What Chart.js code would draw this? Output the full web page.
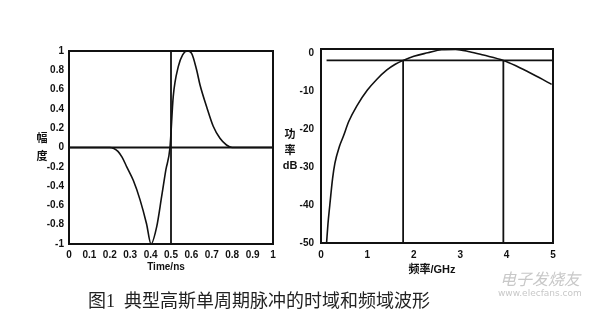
<!DOCTYPE html>
<html>
<head>
<meta charset="utf-8">
<script src="https://cdn.jsdelivr.net/npm/chart.js@4"></script>
<style>
  body { margin: 0; background: #fff; }
  #wrap { position: relative; width: 600px; height: 309px; overflow: hidden; background: #fff; }
  canvas { position: absolute; }
  .lbl { position: absolute; font: bold 11px "Liberation Sans", "Noto Sans CJK SC", sans-serif; color: #111; transform: translate(-50%, -50%); white-space: nowrap; }
  #caption { position: absolute; left: 88px; top: 286px; font: 18px "Liberation Serif", "Noto Sans CJK SC", serif; color: #222; white-space: pre; }
  .wm { position: absolute; color: #c8c8c8; white-space: nowrap; }
</style>
</head>
<body>
<div id="wrap">
  <canvas id="timeChart" style="left:0;top:0" width="290" height="275"></canvas>
  <canvas id="freqChart" style="left:280px;top:0" width="300" height="275"></canvas>
  <div class="lbl" style="left:42px;top:137px">幅</div>
  <div class="lbl" style="left:42px;top:155px">度</div>
  <div class="lbl" style="left:166px;top:266px;font-size:10px">Time/ns</div>
  <div class="lbl" style="left:290px;top:133px">功</div>
  <div class="lbl" style="left:290px;top:149px">率</div>
  <div class="lbl" style="left:290px;top:165px">dB</div>
  <div class="lbl" style="left:432px;top:268px">频率/GHz</div>
  <div id="caption">图1  典型高斯单周期脉冲的时域和频域波形</div>
  <div class="wm" style="left:500px;top:266px;font:italic 16px 'Noto Sans CJK SC',sans-serif">电子发烧友</div>
  <div class="wm" style="left:498px;top:288px;font:9px 'DejaVu Sans',sans-serif">www.elecfans.com</div>
</div>
<script>
// time domain pulse
const timeX = [0, 0.1, 0.2, 0.22, 0.24, 0.26, 0.283, 0.315, 0.348, 0.38, 0.402, 0.43, 0.454, 0.475, 0.495, 0.511, 0.536, 0.557, 0.58, 0.601, 0.626, 0.642, 0.675, 0.707, 0.74, 0.772, 0.8, 0.9, 1];
const timeY = [0, 0, 0, -0.01, -0.04, -0.1, -0.2, -0.34, -0.54, -0.79, -1, -0.82, -0.51, -0.23, 0, 0.53, 0.84, 0.96, 1, 0.976, 0.8, 0.65, 0.42, 0.22, 0.095, 0.026, 0, 0, 0];
const timeXTicks = [0, 0.1, 0.2, 0.3, 0.4, 0.5, 0.6, 0.7, 0.8, 0.9, 1];
const timeXLabels = ['0', '0.1', '0.2', '0.3', '0.4', '0.5', '0.6', '0.7', '0.8', '0.9', '1'];
const timeYTicks = [-1, -0.8, -0.6, -0.4, -0.2, 0, 0.2, 0.4, 0.6, 0.8, 1];
const timeYLabels = ['-1', '-0.8', '-0.6', '-0.4', '-0.2', '0', '0.2', '0.4', '0.6', '0.8', '1'];
const centerLineX = [0.5, 0.5];
const centerLineY = [-1, 1];
const zeroLineX = [0, 1];
const zeroLineY = [0, 0];

// frequency domain spectrum
const freqX = [0.12, 0.15, 0.19, 0.25, 0.3, 0.4, 0.48, 0.6, 0.77, 1.0, 1.2, 1.42, 1.6, 1.77, 2.0, 2.3, 2.6, 2.9, 3.2, 3.5, 3.93, 4.2, 4.43, 4.7, 4.97];
const freqY = [-50, -45, -40, -33, -29, -24.5, -22, -18, -14, -9.8, -7, -4.5, -3, -2, -0.9, 0, 0.8, 0.9, 0.3, -0.6, -2, -3.4, -4.8, -6.5, -8.3];
const freqXTicks = [0, 1, 2, 3, 4, 5];
const freqYTicks = [-50, -40, -30, -20, -10, 0];
const bandLineX = [0.12, 5];
const bandLineY = [-2, -2];
const lowEdgeX = [1.77, 1.77];
const highEdgeX = [3.93, 3.93];
const edgeY = [-50, -2];

function pts(xs, ys) {
    return xs.map(function(x, i) { return { x: x, y: ys[i] }; });
}

function lineSet(xs, ys, w) {
    return {
        data: pts(xs, ys),
        borderColor: '#111',
        borderWidth: w || 1.6,
        pointRadius: 0,
        cubicInterpolationMode: 'monotone',
        fill: false
    };
}

const frame = {
    id: 'frame',
    afterDatasetsDraw: function(chart) {
        const a = chart.chartArea;
        const c = chart.ctx;
        c.save();
        c.strokeStyle = '#111';
        c.lineWidth = 2;
        c.strokeRect(a.left, a.top, a.right - a.left, a.bottom - a.top);
        c.restore();
    }
};

const tickFont = { family: 'Liberation Sans', size: 10, weight: 'bold' };

function axis(min, max, ticks, labels, fitSize, horizontal, pad) {
    return {
        type: 'linear',
        min: min,
        max: max,
        grid: { display: false, drawTicks: false, tickLength: 0 },
        border: { display: false },
        afterBuildTicks: function(s) { s.ticks = ticks.map(function(v) { return { value: v }; }); },
        afterFit: function(s) { if (horizontal) { s.height = fitSize; } else { s.width = fitSize; } },
        ticks: {
            color: '#111',
            font: tickFont,
            padding: pad,
            maxRotation: 0,
            autoSkip: false,
            callback: function(v, i) { return labels[i]; }
        }
    };
}

new Chart(document.getElementById('timeChart'), {
    type: 'line',
    data: {
        datasets: [
            lineSet(timeX, timeY),
            lineSet(centerLineX, centerLineY, 1.8),
            lineSet(zeroLineX, zeroLineY, 1.8)
        ]
    },
    options: {
        responsive: false,
        animation: false,
        layout: { padding: { left: 0, top: 51, right: 17, bottom: 0 } },
        plugins: { legend: { display: false }, tooltip: { enabled: false } },
        scales: {
            x: axis(0, 1, timeXTicks, timeXLabels, 31, true, 5),
            y: axis(-1, 1, timeYTicks, timeYLabels, 69, false, 5)
        }
    },
    plugins: [frame]
});

new Chart(document.getElementById('freqChart'), {
    type: 'line',
    data: {
        datasets: [
            lineSet(freqX, freqY),
            lineSet(bandLineX, bandLineY, 1.8),
            lineSet(lowEdgeX, edgeY, 1.8),
            lineSet(highEdgeX, edgeY, 1.8)
        ]
    },
    options: {
        responsive: false,
        animation: false,
        layout: { padding: { left: 0, top: 49, right: 27, bottom: 0 } },
        plugins: { legend: { display: false }, tooltip: { enabled: false } },
        scales: {
            x: axis(0, 5, freqXTicks, freqXTicks.map(String), 32, true, 6),
            y: axis(-50, 1, freqYTicks, freqYTicks.map(String), 41, false, 7)
        }
    },
    plugins: [frame]
});
</script>
</body>
</html>
